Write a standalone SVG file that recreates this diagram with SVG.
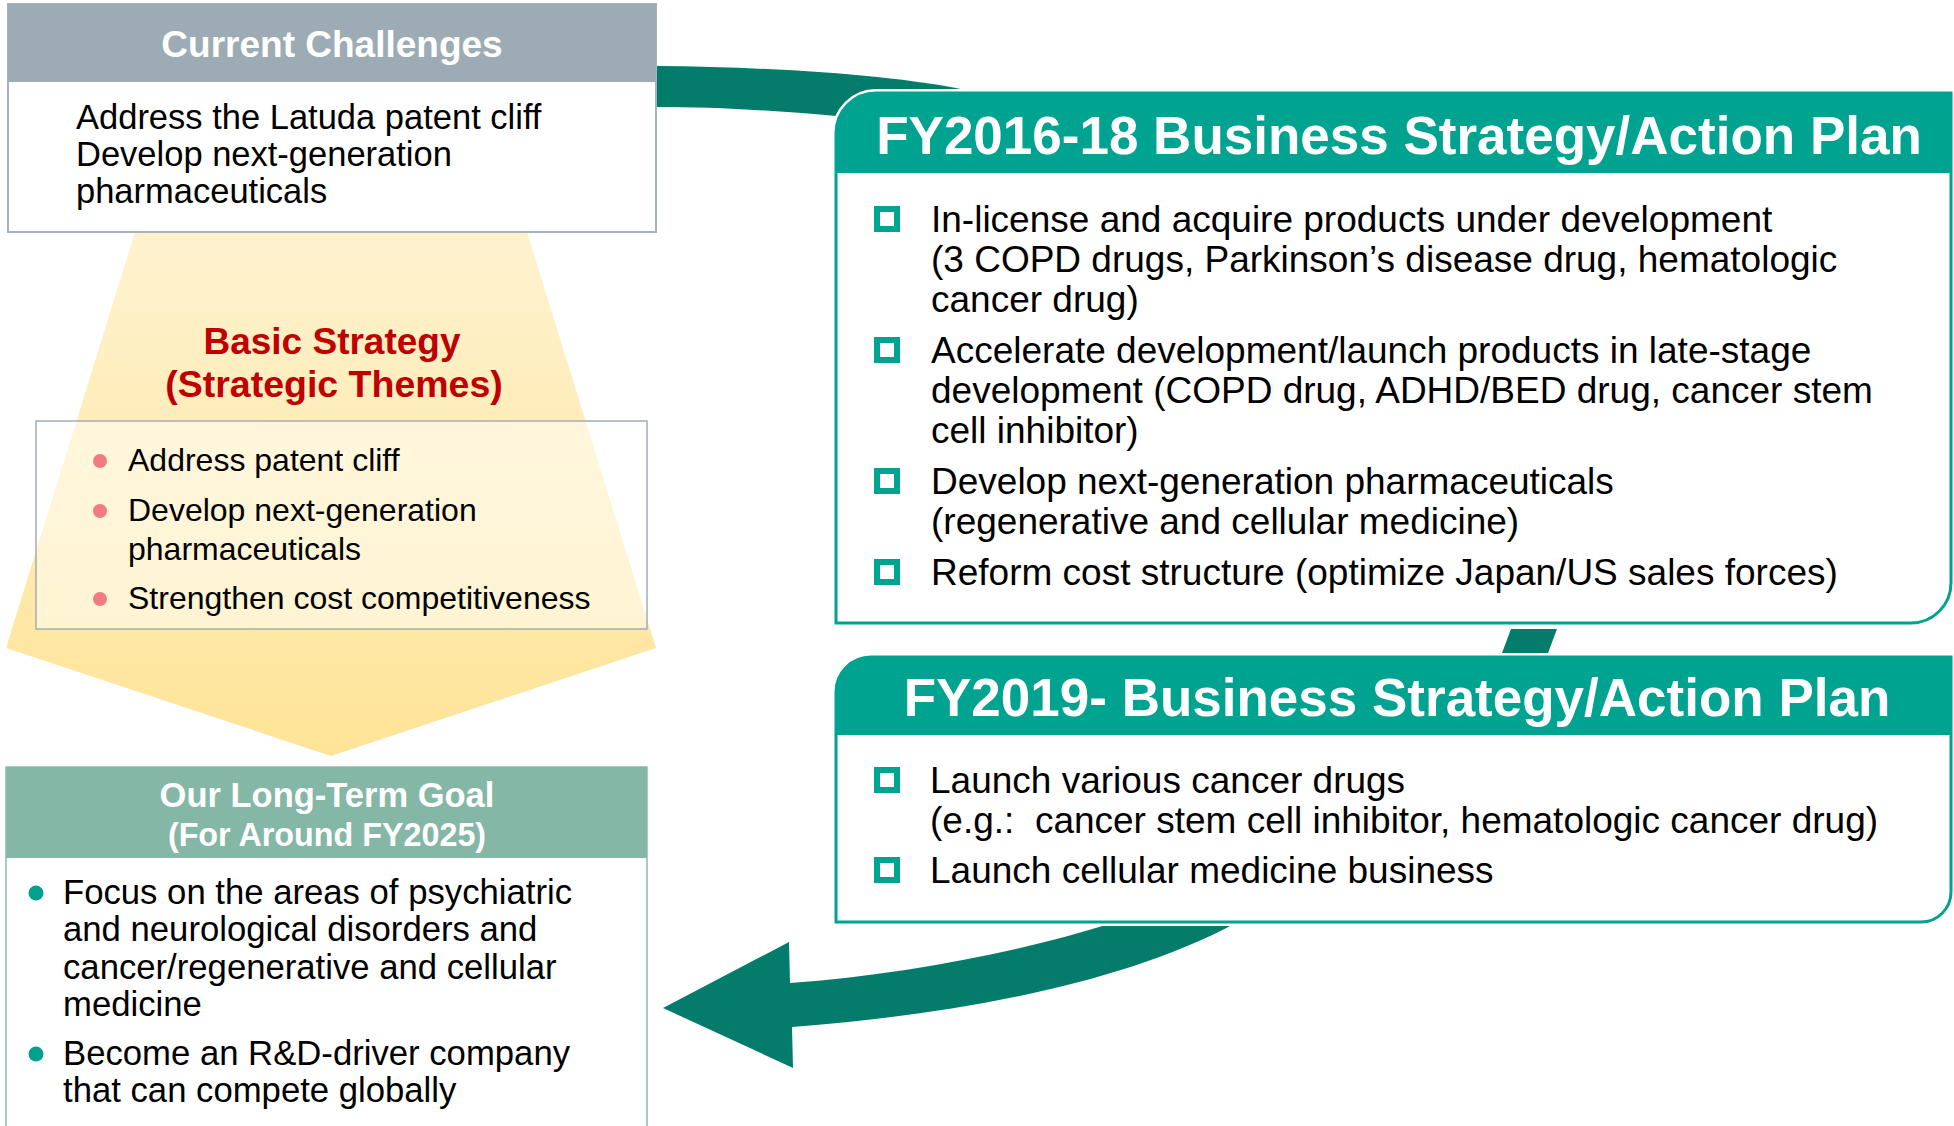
<svg xmlns="http://www.w3.org/2000/svg" width="1954" height="1126" viewBox="0 0 1954 1126">
<defs>
<linearGradient id="funnelGrad" x1="0" y1="0" x2="0" y2="1">
<stop offset="0" stop-color="#FEF2CF"/>
<stop offset="1" stop-color="#FFE497"/>
</linearGradient>
</defs>
<style>
text { font-family: "Liberation Sans", Arial, sans-serif; }
.hdr { font-weight: bold; fill: #FFFFFF; text-anchor: middle; }
.body { fill: #000000; }
.band { fill: #037C6C; }
.sq { fill: none; stroke: #00A38F; stroke-width: 6; }
.tealhdr { fill: #00A38F; }
.tealline { fill: none; stroke: #00A38F; stroke-width: 3; }
.halo { fill: #FFFFFF; stroke: #FFFFFF; stroke-width: 8; }
.pink { fill: #F27A82; }
.tdot { fill: #00A08A; }
</style>
<rect x="0" y="0" width="1954" height="1126" fill="#FFFFFF"/>

<g id="connectors">
  <path class="band" d="M 620 66 L 657 66 C 780 67 900 76 965 90 L 990 100 L 990 140 L 836 116 C 770 110 710 107 657 107 L 620 107 Z"/>
  <path class="band" d="M 663 1008 L 789 942 L 790 983 C 900 975 1020 952 1109 924 L 1120 912 L 1260 912 L 1234 924 C 1120 985 950 1015 792 1027 L 793 1068 Z"/>
  <polygon class="band" points="1511,629 1557,629 1548,653 1502,653"/>
</g>

<g id="basic-strategy">
  <polygon points="135,232 527,232 656,648 331,756 6,648" fill="url(#funnelGrad)"/>
  <text x="332" y="354" font-size="37" font-weight="bold" fill="#C00000" text-anchor="middle">Basic Strategy</text>
  <text x="334" y="397" font-size="37.5" font-weight="bold" fill="#C00000" text-anchor="middle">(Strategic Themes)</text>
  <rect x="36" y="421" width="611" height="208" fill="#FFFFFF" fill-opacity="0.5" stroke="#A3ADB6" stroke-width="1.5"/>
  <circle class="pink" cx="100" cy="461" r="7"/>
  <circle class="pink" cx="100" cy="511" r="7"/>
  <circle class="pink" cx="100" cy="599" r="7"/>
  <text class="body" x="128" y="471" font-size="32">Address patent cliff</text>
  <text class="body" x="128" y="521" font-size="32">Develop next-generation</text>
  <text class="body" x="128" y="560" font-size="32">pharmaceuticals</text>
  <text class="body" x="128" y="609" font-size="32">Strengthen cost competitiveness</text>
</g>

<g id="current-challenges">
  <rect x="8" y="4" width="648" height="228" fill="#FFFFFF" stroke="#A5B3BC" stroke-width="2"/>
  <rect x="8" y="4" width="648" height="78" fill="#9DABB4"/>
  <text class="hdr" x="332" y="57" font-size="37">Current Challenges</text>
  <text class="body" x="76" y="129" font-size="34.5">Address the Latuda patent cliff</text>
  <text class="body" x="76" y="166" font-size="34.5">Develop next-generation</text>
  <text class="body" x="76" y="203" font-size="34.5">pharmaceuticals</text>
</g>

<g id="long-term-goal">
  <rect x="6" y="767" width="641" height="380" fill="#FFFFFF" stroke="#8DBBAE" stroke-width="1.5"/>
  <rect x="6" y="767" width="641" height="91" fill="#85B7A7"/>
  <text class="hdr" x="327" y="807" font-size="34.5">Our Long-Term Goal</text>
  <text class="hdr" x="327" y="846" font-size="32.3">(For Around FY2025)</text>
  <circle class="tdot" cx="36" cy="893" r="7.5"/>
  <circle class="tdot" cx="36" cy="1054" r="7.5"/>
  <text class="body" x="63" y="904" font-size="34.7">Focus on the areas of psychiatric</text>
  <text class="body" x="63" y="941" font-size="34.7">and neurological disorders and</text>
  <text class="body" x="63" y="979" font-size="34.7">cancer/regenerative and cellular</text>
  <text class="body" x="63" y="1016" font-size="34.7">medicine</text>
  <text class="body" x="63" y="1065" font-size="34.7">Become an R&amp;D-driver company</text>
  <text class="body" x="63" y="1102" font-size="34.7">that can compete globally</text>
</g>

<g id="plan-fy2016-18">
  <path class="halo" d="M 836 133 A 40 40 0 0 1 876 93 L 1951 93 L 1951 583 A 40 40 0 0 1 1911 623 L 836 623 Z"/>
  <path class="tealhdr" d="M 836 173 L 836 133 A 40 40 0 0 1 876 93 L 1951 93 L 1951 173 Z"/>
  <path class="tealline" d="M 836 133 A 40 40 0 0 1 876 93 L 1951 93 L 1951 583 A 40 40 0 0 1 1911 623 L 836 623 Z"/>
  <text class="hdr" x="1399" y="154" font-size="53">FY2016-18 Business Strategy/Action Plan</text>
  <rect class="sq" x="877" y="209" width="20" height="20"/>
  <rect class="sq" x="877" y="340" width="20" height="20"/>
  <rect class="sq" x="877" y="471" width="20" height="20"/>
  <rect class="sq" x="877" y="562" width="20" height="20"/>
  <text class="body" x="931" y="232" font-size="37">In-license and acquire products under development</text>
  <text class="body" x="931" y="272" font-size="37">(3 COPD drugs, Parkinson’s disease drug, hematologic</text>
  <text class="body" x="931" y="312" font-size="37">cancer drug)</text>
  <text class="body" x="931" y="363" font-size="37">Accelerate development/launch products in late-stage</text>
  <text class="body" x="931" y="403" font-size="37">development (COPD drug, ADHD/BED drug, cancer stem</text>
  <text class="body" x="931" y="443" font-size="37">cell inhibitor)</text>
  <text class="body" x="931" y="494" font-size="37">Develop next-generation pharmaceuticals</text>
  <text class="body" x="931" y="534" font-size="37">(regenerative and cellular medicine)</text>
  <text class="body" x="931" y="585" font-size="37">Reform cost structure (optimize Japan/US sales forces)</text>
</g>

<g id="plan-fy2019">
  <path class="halo" d="M 836 692 A 35 35 0 0 1 871 657 L 1951 657 L 1951 892 A 30 30 0 0 1 1921 922 L 836 922 Z"/>
  <path class="tealhdr" d="M 836 735 L 836 692 A 35 35 0 0 1 871 657 L 1951 657 L 1951 735 Z"/>
  <path class="tealline" d="M 836 692 A 35 35 0 0 1 871 657 L 1951 657 L 1951 892 A 30 30 0 0 1 1921 922 L 836 922 Z"/>
  <text class="hdr" x="1397" y="716" font-size="53">FY2019- Business Strategy/Action Plan</text>
  <rect class="sq" x="877" y="770" width="20" height="20"/>
  <rect class="sq" x="877" y="860" width="20" height="20"/>
  <text class="body" x="930" y="793" font-size="37">Launch various cancer drugs</text>
  <text class="body" x="930" y="833" font-size="37" xml:space="preserve">(e.g.:  cancer stem cell inhibitor, hematologic cancer drug)</text>
  <text class="body" x="930" y="883" font-size="37">Launch cellular medicine business</text>
</g>
</svg>
